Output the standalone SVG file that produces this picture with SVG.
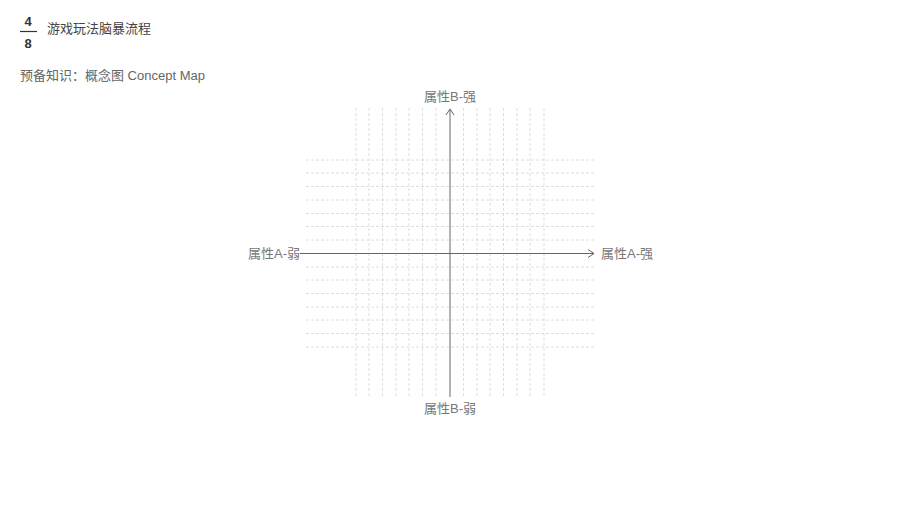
<svg xmlns="http://www.w3.org/2000/svg" width="899" height="506" viewBox="0 0 899 506">
<style>
.t{font-family:"Liberation Sans","Noto Sans CJK SC",sans-serif}
.lbl{font-size:13px;fill:#777}
.grid line{stroke:#d6d6d6;stroke-width:0.8;stroke-dasharray:3 2}
.axis{stroke:#666;stroke-width:1;fill:none}
</style>
<defs>
<marker id="arr" markerWidth="10" markerHeight="10" refX="8" refY="5" orient="auto" markerUnits="userSpaceOnUse">
<path d="M2,1 L8,5 L2,9" fill="none" stroke="#666" stroke-width="1"/>
</marker>
</defs>
<rect width="899" height="506" fill="#fff"/>
<g id="header">
<text class="t" x="28" y="26" font-size="13" font-weight="bold" fill="#333" text-anchor="middle">4</text>
<line x1="20" y1="31.5" x2="37" y2="31.5" stroke="#333" stroke-width="1.2"/>
<text class="t" x="28" y="48" font-size="13" font-weight="bold" fill="#333" text-anchor="middle">8</text>
<text class="t" x="47" y="33" font-size="13" fill="#444">游戏玩法脑暴流程</text>
<text class="t" x="20" y="80" font-size="13" fill="#666">预备知识：概念图 Concept Map</text>
</g>
<g id="grid" class="grid">
<line x1="356" y1="108" x2="356" y2="397"/>
<line x1="369" y1="108" x2="369" y2="397"/>
<line x1="382.5" y1="108" x2="382.5" y2="397"/>
<line x1="396" y1="108" x2="396" y2="397"/>
<line x1="409" y1="108" x2="409" y2="397"/>
<line x1="422.5" y1="108" x2="422.5" y2="397"/>
<line x1="436" y1="108" x2="436" y2="397"/>
<line x1="463.5" y1="108" x2="463.5" y2="397"/>
<line x1="477" y1="108" x2="477" y2="397"/>
<line x1="490" y1="108" x2="490" y2="397"/>
<line x1="503.5" y1="108" x2="503.5" y2="397"/>
<line x1="517" y1="108" x2="517" y2="397"/>
<line x1="530" y1="108" x2="530" y2="397"/>
<line x1="544" y1="108" x2="544" y2="397"/>
<line x1="306" y1="160" x2="596" y2="160"/>
<line x1="306" y1="173" x2="596" y2="173"/>
<line x1="306" y1="186.5" x2="596" y2="186.5"/>
<line x1="306" y1="200" x2="596" y2="200"/>
<line x1="306" y1="213.5" x2="596" y2="213.5"/>
<line x1="306" y1="226.5" x2="596" y2="226.5"/>
<line x1="306" y1="240" x2="596" y2="240"/>
<line x1="306" y1="267" x2="596" y2="267"/>
<line x1="306" y1="280" x2="596" y2="280"/>
<line x1="306" y1="293.5" x2="596" y2="293.5"/>
<line x1="306" y1="307" x2="596" y2="307"/>
<line x1="306" y1="320" x2="596" y2="320"/>
<line x1="306" y1="333.5" x2="596" y2="333.5"/>
<line x1="306" y1="347" x2="596" y2="347"/>
</g>
<g id="connectors">
<line class="axis" x1="300" y1="253.5" x2="594" y2="253.5" marker-end="url(#arr)"/>
<line class="axis" x1="450" y1="397" x2="450" y2="109" marker-end="url(#arr)"/>
</g>
<g id="label-b-strong"><text class="t lbl" x="450" y="101" text-anchor="middle">属性B-强</text></g>
<g id="label-b-weak"><text class="t lbl" x="450" y="413" text-anchor="middle">属性B-弱</text></g>
<g id="label-a-weak"><text class="t lbl" x="300" y="258" text-anchor="end">属性A-弱</text></g>
<g id="label-a-strong"><text class="t lbl" x="601" y="258">属性A-强</text></g>
</svg>
